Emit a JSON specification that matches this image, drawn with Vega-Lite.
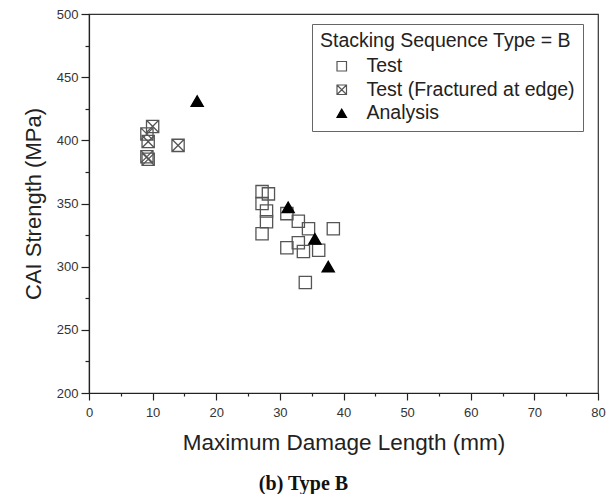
{
  "$schema": "https://vega.github.io/schema/vega-lite/v6.json",
  "autosize": "none",
  "width": 509,
  "height": 379,
  "padding": {"left": 89, "top": 14, "right": 14, "bottom": 101},
  "background": "white",
  "config": {"view": {"stroke": "#333", "strokeWidth": 1.2}},
  "title": {"text": "(b) Type B", "orient": "bottom", "anchor": "middle", "font": "Liberation Serif", "fontWeight": "bold", "fontSize": 20, "color": "#111", "dx": -40, "offset": 20},
  "data": {"values": [
    {"x": 10.0, "y": 411, "type": "Test (Fractured at edge)"},
    {"x": 9.1, "y": 405, "type": "Test (Fractured at edge)"},
    {"x": 9.3, "y": 399, "type": "Test (Fractured at edge)"},
    {"x": 9.1, "y": 387, "type": "Test (Fractured at edge)"},
    {"x": 9.3, "y": 385, "type": "Test (Fractured at edge)"},
    {"x": 14.0, "y": 396, "type": "Test (Fractured at edge)"},
    {"x": 27.2, "y": 359.4, "type": "Test"},
    {"x": 28.2, "y": 357.6, "type": "Test"},
    {"x": 27.2, "y": 350, "type": "Test"},
    {"x": 27.9, "y": 344, "type": "Test"},
    {"x": 27.9, "y": 335.5, "type": "Test"},
    {"x": 27.2, "y": 326, "type": "Test"},
    {"x": 31.1, "y": 342, "type": "Test"},
    {"x": 32.9, "y": 336, "type": "Test"},
    {"x": 34.5, "y": 330, "type": "Test"},
    {"x": 38.4, "y": 330, "type": "Test"},
    {"x": 31.1, "y": 315, "type": "Test"},
    {"x": 32.9, "y": 319, "type": "Test"},
    {"x": 33.7, "y": 312, "type": "Test"},
    {"x": 36.1, "y": 313, "type": "Test"},
    {"x": 34.0, "y": 287.5, "type": "Test"},
    {"x": 17.0, "y": 431, "type": "Analysis"},
    {"x": 31.3, "y": 347, "type": "Analysis"},
    {"x": 35.5, "y": 322, "type": "Analysis"},
    {"x": 37.6, "y": 300, "type": "Analysis"}
  ]},
  "mark": {"type": "point", "filled": true, "size": 150, "strokeWidth": 1.3, "opacity": 1},
  "encoding": {
    "x": {"field": "x", "type": "quantitative", "scale": {"domain": [0, 80], "nice": false},
      "axis": {"title": "Maximum Damage Length (mm)", "values": [0,5,10,15,20,25,30,35,40,45,50,55,60,65,70,75,80],
        "labelExpr": "datum.value % 10 === 0 ? datum.label : ''",
        "tickSize": {"condition": {"test": "datum.value % 10 === 0", "value": 7}, "value": 3},
        "grid": false, "labelFontSize": 13, "titleFontSize": 22.5, "titleFontWeight": "normal",
        "labelFont": "Liberation Sans", "titleFont": "Liberation Sans", "domainColor": "#222", "tickColor": "#222",
        "labelColor": "#333", "titleColor": "#222", "labelPadding": 6, "titlePadding": 12, "labelFlush": false, "domainWidth": 1.2, "tickWidth": 1.2}},
    "y": {"field": "y", "type": "quantitative", "scale": {"domain": [200, 500], "nice": false, "zero": false},
      "axis": {"title": "CAI Strength (MPa)", "values": [200,225,250,275,300,325,350,375,400,425,450,475,500],
        "labelExpr": "datum.value % 50 === 0 ? datum.label : ''",
        "tickSize": {"condition": {"test": "datum.value % 50 === 0", "value": 8}, "value": 4},
        "grid": false, "labelFontSize": 13, "titleFontSize": 22, "titleFontWeight": "normal",
        "labelFont": "Liberation Sans", "titleFont": "Liberation Sans", "domainColor": "#222", "tickColor": "#222",
        "labelColor": "#333", "titleColor": "#222", "labelPadding": 3, "titlePadding": 11, "labelFlush": false, "domainWidth": 1.2, "tickWidth": 1.2}},
    "shape": {"field": "type", "type": "nominal",
      "scale": {"domain": ["Test", "Test (Fractured at edge)", "Analysis"], "range": ["square", "M-1,-1L1,-1L1,1L-1,1Z M-1,-1L1,1 M1,-1L-1,1", "triangle-up"]},
      "legend": {"orient": "none", "legendX": 223, "legendY": 10, "title": "Stacking Sequence Type = B",
        "titleFontSize": 19.5, "titleFontWeight": "normal", "titleFont": "Liberation Sans", "titleColor": "#222", "titleLimit": 400,
        "labelFontSize": 19.5, "labelFont": "Liberation Sans", "labelColor": "#222", "labelLimit": 400, "strokeColor": "#666",
        "fillColor": "white", "padding": 8, "rowPadding": 2.5, "titlePadding": 5, "symbolOffset": 12, "labelOffset": 15,
        "symbolSize": 90, "symbolStrokeWidth": 1.2}},
    "fill": {"field": "type", "type": "nominal",
      "scale": {"domain": ["Test", "Test (Fractured at edge)", "Analysis"], "range": ["transparent", "transparent", "black"]}},
    "stroke": {"field": "type", "type": "nominal",
      "scale": {"domain": ["Test", "Test (Fractured at edge)", "Analysis"], "range": ["#555", "#555", "black"]}}
  }
}
